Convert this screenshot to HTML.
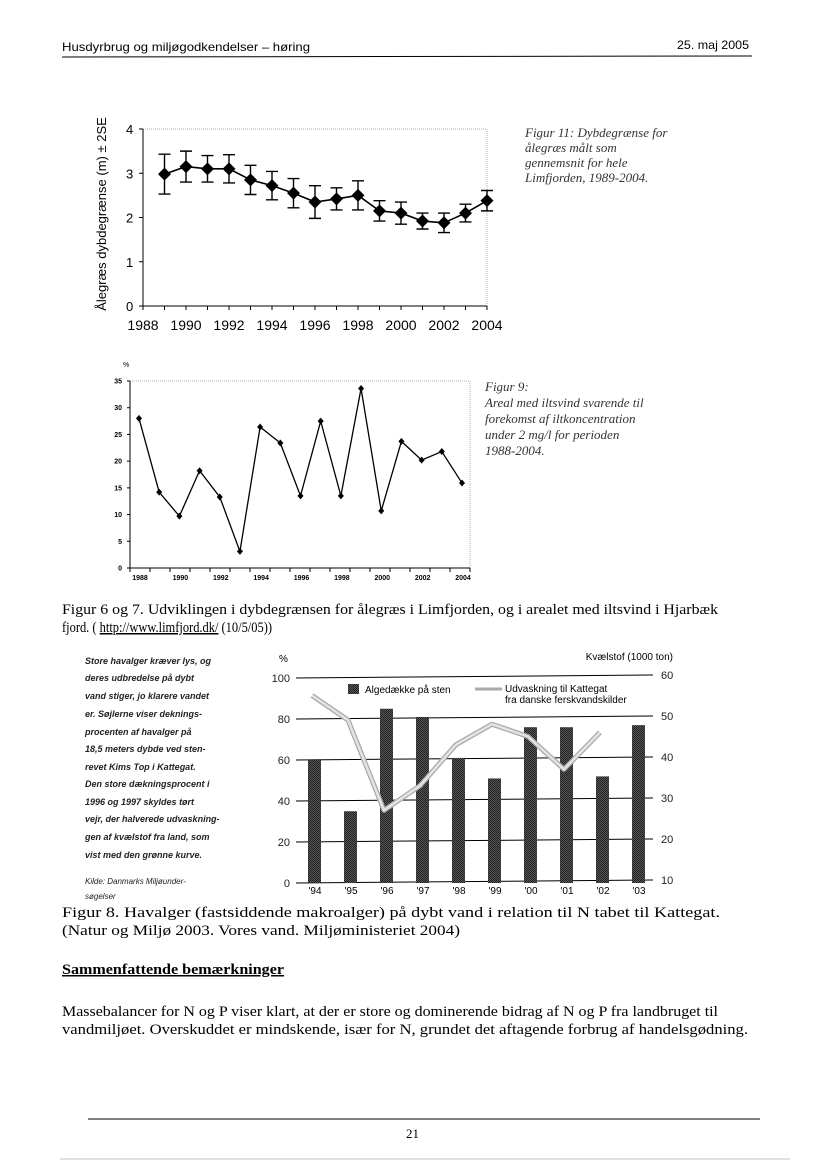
<!DOCTYPE html>
<html><head><meta charset="utf-8"><style>
html,body{margin:0;padding:0;background:#fff;}
svg{display:block;}
</style></head><body>
<svg id="page" width="827" height="1169" viewBox="0 0 827 1169" xmlns="http://www.w3.org/2000/svg" font-family="Liberation Sans, sans-serif">
<g>
<text x="62" y="51" font-size="12" textLength="248" lengthAdjust="spacingAndGlyphs">Husdyrbrug og miljøgodkendelser – høring</text>
<text x="677" y="49" font-size="12" textLength="72" lengthAdjust="spacingAndGlyphs">25. maj 2005</text>
<line x1="62" y1="57" x2="752" y2="56" stroke="#000" stroke-width="1"/>
</g>
<g id="c1"></g>
<g font-family="Liberation Serif, serif" font-style="italic" font-size="13" fill="#333">
<text x="525" y="137">Figur 11: Dybdegrænse for</text>
<text x="525" y="152">ålegræs målt som</text>
<text x="525" y="167">gennemsnit for hele</text>
<text x="525" y="182">Limfjorden, 1989-2004.</text>
</g>
<g id="c2"></g>
<g font-family="Liberation Serif, serif" font-style="italic" font-size="13" fill="#333">
<text x="485" y="391">Figur 9:</text>
<text x="485" y="407">Areal med iltsvind svarende til</text>
<text x="485" y="423">forekomst af iltkoncentration</text>
<text x="485" y="439">under 2 mg/l for perioden</text>
<text x="485" y="455">1988-2004.</text>
</g>
<g font-family="Liberation Serif, serif" font-size="15">
<text x="62" y="614" textLength="656" lengthAdjust="spacingAndGlyphs">Figur 6 og 7. Udviklingen i dybdegrænsen for ålegræs i Limfjorden, og i arealet med iltsvind i Hjarbæk</text>
<text x="62" y="632" textLength="210" lengthAdjust="spacingAndGlyphs">fjord. ( <tspan text-decoration="underline">http://www.limfjord.dk/</tspan> (10/5/05))</text>
</g>
<g font-size="9" font-style="italic" font-weight="bold" fill="#222">
<text x="85" y="664">Store havalger kræver lys, og</text>
<text x="85" y="681">deres udbredelse på dybt</text>
<text x="85" y="699">vand stiger, jo klarere vandet</text>
<text x="85" y="717">er. Søjlerne viser deknings-</text>
<text x="85" y="735">procenten af havalger på</text>
<text x="85" y="752">18,5 meters dybde ved sten-</text>
<text x="85" y="770">revet Kims Top i Kattegat.</text>
<text x="85" y="787">Den store dækningsprocent i</text>
<text x="85" y="805">1996 og 1997 skyldes tørt</text>
<text x="85" y="822">vejr, der halverede udvaskning-</text>
<text x="85" y="840">gen af kvælstof fra land, som</text>
<text x="85" y="858">vist med den grønne kurve.</text>
<text x="85" y="884" font-weight="normal" font-size="8">Kilde: Danmarks Miljøunder-</text>
<text x="85" y="899" font-weight="normal" font-size="8">søgelser</text>
</g>
<g id="c3"></g>
<g font-family="Liberation Serif, serif" font-size="15">
<text x="62" y="917" textLength="658" lengthAdjust="spacingAndGlyphs">Figur 8. Havalger (fastsiddende makroalger) på dybt vand i relation til N tabet til Kattegat.</text>
<text x="62" y="935" textLength="398" lengthAdjust="spacingAndGlyphs">(Natur og Miljø 2003. Vores vand. Miljøministeriet 2004)</text>
</g>
<g font-family="Liberation Serif, serif" font-size="15">
<text x="62" y="974" font-weight="bold" text-decoration="underline" textLength="222" lengthAdjust="spacingAndGlyphs">Sammenfattende bemærkninger</text>
<text x="62" y="1016" textLength="656" lengthAdjust="spacingAndGlyphs">Massebalancer for N og P viser klart, at der er store og dominerende bidrag af N og P fra landbruget til</text>
<text x="62" y="1034" textLength="686" lengthAdjust="spacingAndGlyphs">vandmiljøet. Overskuddet er mindskende, især for N, grundet det aftagende forbrug af handelsgødning.</text>
</g>
<g>
<line x1="88" y1="1119" x2="760" y2="1119" stroke="#000"/>
<text x="406" y="1138" font-family="Liberation Serif, serif" font-size="13">21</text>
<line x1="60" y1="1159" x2="790" y2="1159" stroke="#888" stroke-width="0.6"/>
</g>
</svg>
<script>
const NS='http://www.w3.org/2000/svg';
function mk(p,tag,a,txt){const e=document.createElementNS(NS,tag);for(const k in a)e.setAttribute(k,a[k]);if(txt!==undefined)e.textContent=txt;p.appendChild(e);return e;}

// Chart 1 data
const c1Years=[1989,1990,1991,1992,1993,1994,1995,1996,1997,1998,1999,2000,2001,2002,2003,2004];
const c1Depth=[2.98,3.15,3.1,3.1,2.85,2.72,2.55,2.35,2.42,2.5,2.15,2.1,1.92,1.88,2.1,2.38];
const c1Err=[0.45,0.35,0.3,0.32,0.33,0.32,0.33,0.37,0.25,0.33,0.23,0.25,0.18,0.22,0.2,0.23];
const c1YTicks=[0,1,2,3,4];
const c1XTicks=[1988,1990,1992,1994,1996,1998,2000,2002,2004];

// Chart 2 data
const c2Years=[1988,1989,1990,1991,1992,1993,1994,1995,1996,1997,1998,1999,2000,2001,2002,2003,2004];
const c2Area=[28,14.2,9.7,18.2,13.3,3.1,26.4,23.4,13.5,27.5,13.5,33.6,10.7,23.7,20.2,21.8,15.9];
const c2YTicks=[0,5,10,15,20,25,30,35];
const c2XTicks=[1988,1990,1992,1994,1996,1998,2000,2002,2004];

// Chart 3 data
const c3Cats=["'94","'95","'96","'97","'98","'99","'00","'01","'02","'03"];
const c3Algae=[60,35,85,81,61,51,76,76,52,77];
const c3Nitrogen=[55,49,27,33,43,48,45,37,46];
const c3LeftTicks=[0,20,40,60,80,100];
const c3RightTicks=[10,20,30,40,50,60];

// ---- chart 1
(function(){
 const g=document.getElementById('c1');
 const x=v=>143+(v-1988)*(344/16), y=v=>306-v*(177/4);
 const box=mk(g,'rect',{x:143,y:129,width:344,height:177,fill:'none',stroke:'#999','stroke-dasharray':'1,1','stroke-width':0.8});
 
 mk(g,'line',{x1:143,y1:129,x2:143,y2:306,stroke:'#000'});
 mk(g,'line',{x1:143,y1:306,x2:487,y2:306,stroke:'#000'});
 c1YTicks.forEach(t=>{mk(g,'line',{x1:139,y1:y(t),x2:143,y2:y(t),stroke:'#000'});
  const l=mk(g,'text',{x:126,y:y(t)+5,'font-size':13},String(t));});
 for(let v=1988;v<=2004;v++)mk(g,'line',{x1:x(v),y1:306,x2:x(v),y2:310,stroke:'#000'});
 c1XTicks.forEach(t=>{const l=mk(g,'text',{x:x(t),y:330,'font-size':14,'text-anchor':'middle'},String(t));});
 const tt=mk(g,'text',{x:0,y:0,'font-size':13,'text-anchor':'middle',transform:'translate(106,214) rotate(-90)'},'Ålegræs dybdegrænse (m) ± 2SE');
 
 let d='';c1Years.forEach((v,i)=>{d+=(i?'L':'M')+x(v)+','+y(c1Depth[i]);});
 const ln=mk(g,'path',{d:d,fill:'none',stroke:'#000','stroke-width':1.6});
 c1Years.forEach((v,i)=>{const cx=x(v),t=y(c1Depth[i]+c1Err[i]),b=y(c1Depth[i]-c1Err[i]);
  const eb=mk(g,'path',{d:`M${cx},${t}V${b}M${cx-6},${t}H${cx+6}M${cx-6},${b}H${cx+6}`,stroke:'#000','stroke-width':1.4,fill:'none'});
  
  const cy=y(c1Depth[i]);const p=mk(g,'path',{d:`M${cx},${cy-6.5}L${cx+6.5},${cy}L${cx},${cy+6.5}L${cx-6.5},${cy}Z`,fill:'#000'});
  });
})();

// ---- chart 2
(function(){
 const g=document.getElementById('c2');
 const x=v=>139+(v-1988)*(323/16), y=v=>568-v*(187/35);
 const box=mk(g,'rect',{x:130,y:381,width:340,height:187,fill:'none',stroke:'#999','stroke-dasharray':'1,1','stroke-width':0.8});
 
 mk(g,'line',{x1:130,y1:381,x2:130,y2:568,stroke:'#000'});
 mk(g,'line',{x1:130,y1:568,x2:470,y2:568,stroke:'#000'});
 const u=mk(g,'text',{x:123,y:367,'font-size':7},'%');
 c2YTicks.forEach(t=>{mk(g,'line',{x1:127,y1:y(t),x2:130,y2:y(t),stroke:'#000'});
  const l=mk(g,'text',{x:122,y:y(t)+2.5,'font-size':7,'font-weight':'bold','text-anchor':'end'},String(t));});
 for(let v=1988;v<=2005;v++)mk(g,'line',{x1:130+(v-1988)*20,y1:568,x2:130+(v-1988)*20,y2:572,stroke:'#000'});
 c2XTicks.forEach(t=>{const l=mk(g,'text',{x:x(t)+1,y:580,'font-size':7,'font-weight':'bold','text-anchor':'middle'},String(t));});
 let d='';c2Years.forEach((v,i)=>{d+=(i?'L':'M')+x(v)+','+y(c2Area[i]);});
 const ln=mk(g,'path',{d:d,fill:'none',stroke:'#000','stroke-width':1.3});
 c2Years.forEach((v,i)=>{const cx=x(v),cy=y(c2Area[i]);const p=mk(g,'path',{d:`M${cx},${cy-3.5}L${cx+3},${cy}L${cx},${cy+3.5}L${cx-3},${cy}Z`,fill:'#000'});
  });
})();

// ---- chart 3
(function(){
 const g=document.getElementById('c3');
 const defs=mk(g,'defs',{});
 const pat=mk(defs,'pattern',{id:'hatch',width:2,height:2,patternUnits:'userSpaceOnUse'});
 mk(pat,'rect',{width:2,height:2,fill:'#555'});mk(pat,'rect',{width:1,height:1,fill:'#222'});mk(pat,'rect',{x:1,y:1,width:1,height:1,fill:'#222'});
 const y=v=>883-v*2.05, yr=v=>880-(v-10)*4.1, x=i=>315+i*36;
 c3LeftTicks.forEach(t=>{
  const gl=mk(g,'line',{x1:296,y1:y(t),x2:653,y2:y(t)-3,stroke:'#000','stroke-width':1});
  const l=mk(g,'text',{x:290,y:y(t)+4,'font-size':11,'text-anchor':'end',fill:'#222'},String(t));});
 c3RightTicks.forEach(t=>{const l=mk(g,'text',{x:661,y:yr(t)+4,'font-size':11,fill:'#222'},String(t));});
 const u=mk(g,'text',{x:279,y:662,'font-size':10},'%');
 const r=mk(g,'text',{x:673,y:660,'font-size':10,'text-anchor':'end'},'Kvælstof (1000 ton)');
 c3Cats.forEach((c,i)=>{const b=mk(g,'rect',{x:x(i)-7,y:y(c3Algae[i]),width:13,height:y(0)-y(c3Algae[i]),fill:'url(#hatch)'});
  
  const l=mk(g,'text',{x:x(i),y:894,'font-size':10,'text-anchor':'middle'},c);});
 let d='';c3Nitrogen.forEach((v,i)=>{d+=(i?'L':'M')+(x(i)-3)+','+yr(v);});
 mk(g,'path',{d:d,fill:'none',stroke:'#aaa','stroke-width':5,'stroke-linejoin':'round'});
 const ln=mk(g,'path',{d:d,fill:'none',stroke:'#e4e4e4','stroke-width':2.5,'stroke-linejoin':'round'});
 
 const lg=mk(g,'g',{});
 mk(lg,'rect',{x:348,y:684,width:11,height:10,fill:'url(#hatch)'});
 mk(lg,'text',{x:365,y:693,'font-size':10},'Algedække på sten');
 mk(lg,'line',{x1:475,y1:689,x2:502,y2:689,stroke:'#aaa','stroke-width':3});
 mk(lg,'text',{x:505,y:692,'font-size':10},'Udvaskning til Kattegat');
 mk(lg,'text',{x:505,y:703,'font-size':10},'fra danske ferskvandskilder');
})();
</script>
</body></html>
